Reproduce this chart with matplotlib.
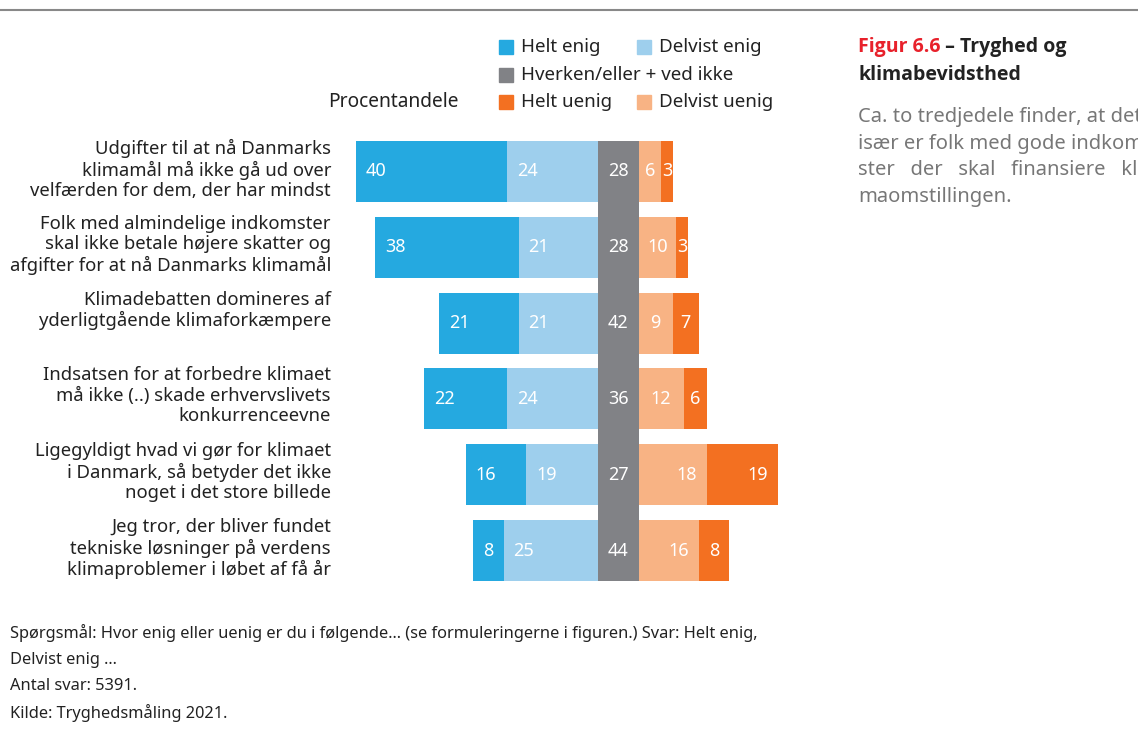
import numpy as np
import matplotlib.pyplot as plt
from matplotlib.patches import Rectangle

plt.rcParams['font.family'] = ['Noto Sans', 'DejaVu Sans']

# data (percent)
questions = [
    "Udgifter til at nå Danmarks\nklimamål må ikke gå ud over\nvelfærden for dem, der har mindst",
    "Folk med almindelige indkomster\nskal ikke betale højere skatter og\nafgifter for at nå Danmarks klimamål",
    "Klimadebatten domineres af\nyderligtgående klimaforkæmpere",
    "Indsatsen for at forbedre klimaet\nmå ikke (..) skade erhvervslivets\nkonkurrenceevne",
    "Ligegyldigt hvad vi gør for klimaet\ni Danmark, så betyder det ikke\nnoget i det store billede",
    "Jeg tror, der bliver fundet\ntekniske løsninger på verdens\nklimaproblemer i løbet af få år",
]
helt_enig = [40, 38, 21, 22, 16, 8]
delvist_enig = [24, 21, 21, 24, 19, 25]
neutral = [28, 28, 42, 36, 27, 44]
delvist_uenig = [6, 10, 9, 12, 18, 16]
helt_uenig = [3, 3, 7, 6, 19, 8]

C_HE = '#25a9e0'
C_DE = '#9ecfed'
C_N = '#818286'
C_HU = '#f37021'
C_DU = '#f8b384'
TXT = '#222222'

W, H = 1138, 745
fig = plt.figure(figsize=(W / 100, H / 100), dpi=100)

# axes in pixel layout: x 340..800, y 130..595
px = 3.78          # pixels per percent
x0 = 598           # pixel of zero (left edge of neutral column)
gw = 40.5 / px     # neutral column width in data units
ax = fig.add_axes([340 / W, 1 - 595 / H, 460 / W, 465 / H])
ax.set_xlim(-(x0 - 340) / px, (800 - x0) / px)
rs = 75.8
ax.set_ylim((595 - 171.5) / rs, -(171.5 - 130) / rs)
ax.axis('off')

y = np.arange(len(questions))
he = np.array(helt_enig)
de = np.array(delvist_enig)
du = np.array(delvist_uenig)
hu = np.array(helt_uenig)
bh = 0.805

ax.barh(y, -de, height=bh, color=C_DE, left=0)
ax.barh(y, -he, height=bh, color=C_HE, left=-de)
ax.barh(y, du, height=bh, color=C_DU, left=gw)
ax.barh(y, hu, height=bh, color=C_HU, left=gw + du)
# neutral values share one fixed-width column
ax.bar(gw / 2, len(y) - 1 + bh, width=gw, bottom=-bh / 2, color=C_N)

fs = 13
pad = 10 / px
for i in y:
    ax.text(-de[i] - he[i] + pad, i, str(he[i]), color='white', fontsize=fs, va='center', ha='left')
    ax.text(-de[i] + pad, i, str(de[i]), color='white', fontsize=fs, va='center', ha='left')
    ax.text(gw / 2, i, str(neutral[i]), color='white', fontsize=fs, va='center', ha='center')
    for left, v in [(gw, du[i]), (gw + du[i], hu[i])]:
        if v <= 12:
            ax.text(left + v / 2, i, str(v), color='white', fontsize=fs, va='center', ha='center')
        else:
            ax.text(left + v - pad, i, str(v), color='white', fontsize=fs, va='center', ha='right')
    ax.text(-(x0 - 331) / px, i - 0.43, questions[i], color=TXT, fontsize=13.3,
            ha='right', va='top', linespacing=1.17, clip_on=False)

# top rule
fig.add_artist(plt.Line2D([0, 1], [1 - 10 / H, 1 - 10 / H], color='#888888', lw=1.5))

# legend
leg = [(499, 47, C_HE, 'Helt enig'), (637, 47, C_DE, 'Delvist enig'),
       (499, 75, C_N, 'Hverken/eller + ved ikke'),
       (499, 102, C_HU, 'Helt uenig'), (637, 102, C_DU, 'Delvist uenig')]
for lx, ly, c, lab in leg:
    fig.add_artist(Rectangle((lx / W, 1 - (ly + 7) / H), 14 / W, 14 / H, color=c,
                             transform=fig.transFigure))
    fig.text((lx + 22) / W, 1 - ly / H, lab, color=TXT, fontsize=13.5, va='center', ha='left')
fig.text(459 / W, 1 - 102 / H, 'Procentandele', color=TXT, fontsize=13.8, va='center', ha='right')

# side title and text
bold = ['Open Sans', 'DejaVu Sans']
t = fig.text(858 / W, 1 - 47 / H, 'Figur 6.6', color='#e8212b', fontsize=14,
             fontweight='bold', family=bold, va='center', ha='left')
fig.canvas.draw()
bb = t.get_window_extent()
fig.text(bb.x1 / W, 1 - 47 / H, ' – Tryghed og', color=TXT, fontsize=14,
         fontweight='bold', family=bold, va='center', ha='left')
fig.text(858 / W, 1 - 75 / H, 'klimabevidsthed', color=TXT, fontsize=14,
         fontweight='bold', family=bold, va='center', ha='left')
side = ['Ca. to tredjedele finder, at det',
        'især er folk med gode indkom-',
        'ster   der   skal   finansiere   kli-',
        'maomstillingen.']
for k, line in enumerate(side):
    fig.text(858 / W, 1 - (117 + 26.7 * k) / H, line, color='#777777', fontsize=14.5,
             va='center', ha='left')

# footnote
notes = ['Spørgsmål: Hvor enig eller uenig er du i følgende... (se formuleringerne i figuren.) Svar: Helt enig,',
         'Delvist enig ...',
         'Antal svar: 5391.',
         'Kilde: Tryghedsmåling 2021.']
for k, line in enumerate(notes):
    fig.text(10 / W, 1 - (633 + 26.7 * k) / H, line, color=TXT, fontsize=11.8,
             va='center', ha='left')

fig.savefig('out.png', dpi=100)
